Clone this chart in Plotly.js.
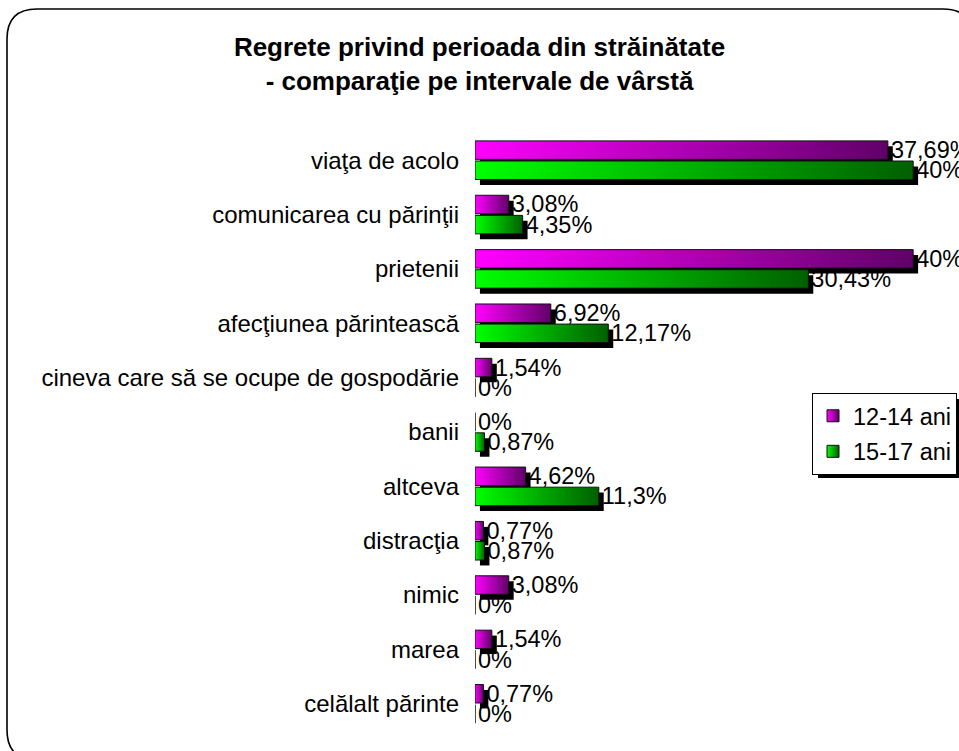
<!DOCTYPE html>
<html>
<head>
<meta charset="utf-8">
<script src="https://cdn.plot.ly/plotly-3.0.1.min.js"></script>
<style>
html,body{margin:0;padding:0;background:#fff;}
#chart{width:959px;height:751px;}
</style>
</head>
<body>
<div id="chart"></div>
<script>
var categories = ["viaţa de acolo", "comunicarea cu părinţii", "prietenii", "afecţiunea părintească",
  "cineva care să se ocupe de gospodărie", "banii", "altceva", "distracţia", "nimic", "marea", "celălalt părinte"];
var seriesNames = ["12-14 ani", "15-17 ani"];
var values1214 = [37.69, 3.08, 40, 6.92, 1.54, 0, 4.62, 0.77, 3.08, 1.54, 0.77];
var values1517 = [40, 4.35, 30.43, 12.17, 0, 0.87, 11.3, 0.87, 0, 0, 0];
var titleText = "Regrete privind perioada din străinătate<br>- comparaţie pe intervale de vârstă";

function fmt(v){ return String(v).replace('.', ',') + '%'; }

var FONT = '"Liberation Sans", Arial, sans-serif';
var W = 0.34, OFF1 = -0.355, OFF2 = 0.015, SHX = 0.45, SHY = 0.1;

function shadow(vals, off){
  return {type:'bar', orientation:'h', y:categories, x:vals, base:SHX, width:W, offset:off+SHY,
    marker:{color:'#000', line:{width:0}}, showlegend:false, hoverinfo:'skip'};
}
function main(vals, off, name, color, grp){
  return {type:'bar', orientation:'h', y:categories, x:vals, width:W, offset:off, name:name,
    legendgroup:grp,
    marker:{color:color, line:{color:'#111', width:1}},
    text:vals.map(fmt), textposition:'outside', cliponaxis:false, constraintext:'none',
    textfont:{family:FONT, size:23.5, color:'#000'}};
}

var data = [
  shadow(values1214, OFF1),
  shadow(values1517, OFF2),
  main(values1214, OFF1, seriesNames[0], '#c000c0', 'a'),
  main(values1517, OFF2, seriesNames[1], '#00b000', 'b')
];

// pixel -> paper helpers
var ML = 475, MR = 2, MT = 133, MB = 20, FW = 959, FH = 751;
var PW = FW - ML - MR, PH = FH - MT - MB;
function px(x){ return ((x - ML) / PW).toFixed(5); }
function py(y){ return ((FH - MB - y) / PH).toFixed(5); }
function P(x,y){ return px(x) + ',' + py(y); }

var frame = 'M' + P(7,39) + ' Q' + P(7,9) + ' ' + P(37,9) + ' L' + P(943,9) + ' Q' + P(973,9) + ' ' + P(973,39) +
  ' L' + P(973,730) + ' Q' + P(973,760) + ' ' + P(943,760) + ' L' + P(37,760) + ' Q' + P(7,760) + ' ' + P(7,730) + ' Z';

var layout = {
  width: FW, height: FH,
  margin: {l: ML, r: MR, t: MT, b: MB, autoexpand: false},
  paper_bgcolor: '#fff', plot_bgcolor: 'rgba(0,0,0,0)',
  font: {family: FONT, color: '#000'},
  barmode: 'overlay',
  showlegend: true,
  title: {text: titleText, x: 0.5, xanchor: 'center', y: 0.925, yanchor: 'top',
    font: {family: FONT, size: 26, color: '#000', weight: 'bold'}},
  xaxis: {range: [0, 44], visible: false, showgrid: false, zeroline: false, fixedrange: true},
  yaxis: {type: 'category', autorange: 'reversed', showgrid: false, zeroline: false, showline: false,
    ticks: '', ticklabelstandoff: 15, tickfont: {family: FONT, size: 24, color: '#000'}, fixedrange: true},
  legend: {x: 1, y: (FH - MB - 393) / PH, xanchor: 'right', yanchor: 'top',
    bgcolor: '#fff', bordercolor: '#000', borderwidth: 1,
    traceorder: 'grouped', tracegroupgap: 2,
    font: {family: FONT, size: 23.5, color: '#000'}},
  shapes: [
    {type: 'path', xref: 'paper', yref: 'paper', path: frame, line: {color: '#000', width: 1.6}, fillcolor: 'rgba(0,0,0,0)', layer: 'below'},
    {type: 'rect', xref: 'paper', yref: 'paper', x0: px(818), x1: px(965), y0: py(399), y1: py(478),
      fillcolor: '#000', line: {width: 0}, layer: 'above'}
  ],
  hovermode: false
};

Plotly.newPlot('chart', data, layout, {staticPlot: true, displayModeBar: false}).then(function(gd){
  var ns = 'http://www.w3.org/2000/svg';
  var svg = gd.querySelector('svg.main-svg');
  var defs = document.createElementNS(ns, 'defs');
  svg.insertBefore(defs, svg.firstChild);
  function grad(id, c1, c2){
    var g = document.createElementNS(ns, 'linearGradient');
    g.setAttribute('id', id);
    g.setAttribute('x1', '0'); g.setAttribute('y1', '0'); g.setAttribute('x2', '1'); g.setAttribute('y2', '0');
    [[0, c1], [1, c2]].forEach(function(s){
      var st = document.createElementNS(ns, 'stop');
      st.setAttribute('offset', s[0]); st.setAttribute('stop-color', s[1]);
      g.appendChild(st);
    });
    defs.appendChild(g);
  }
  grad('gPink', '#ff00ff', '#600068');
  grad('gGreen', '#00ff00', '#006000');
  var traces = gd.querySelectorAll('.barlayer .trace');
  if (traces.length >= 4) {
    traces[2].querySelectorAll('.point path').forEach(function(p){ p.style.fill = 'url(#gPink)'; });
    traces[3].querySelectorAll('.point path').forEach(function(p){ p.style.fill = 'url(#gGreen)'; });
  }
  var leg = gd.querySelectorAll('.legend .traces');
  var fills = ['url(#gPink)', 'url(#gGreen)'];
  leg.forEach(function(t, i){
    t.querySelectorAll('.legendpoints path').forEach(function(p){ p.style.fill = fills[i] || p.style.fill; });
  });
});
</script>
</body>
</html>
